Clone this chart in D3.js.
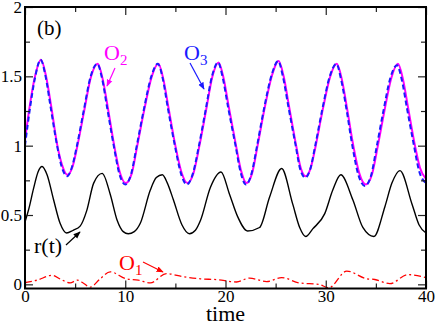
<!DOCTYPE html>
<html>
<head>
<meta charset="utf-8">
<script src="https://cdn.jsdelivr.net/npm/d3@7"></script>
<style>
  body { margin: 0; background: #fff; }
  text { font-family: "Liberation Serif", "Tinos", "Times New Roman", "Times", "DejaVu Serif", "Noto Serif", "FreeSerif", serif; }
</style>
</head>
<body>
<div id="chart"></div>
<script>
// time, value pairs
const o2 = [[0,1.04],[0.5,1.30],[1.0,1.50],[1.6,1.62],[2.1,1.50],[2.6,1.29],[3.23,1.00],[3.7,0.86],[4.23,0.79],[4.75,0.85],[5.23,1.00],[5.9,1.25],[6.6,1.50],[7.25,1.59],
  [7.75,1.48],[8.25,1.28],[8.9,1.00],[9.45,0.81],[10.05,0.73],[10.65,0.80],[11.2,1.00],[11.9,1.26],[12.65,1.50],[13.3,1.59],
  [13.8,1.48],[14.3,1.28],[15.0,1.00],[15.6,0.81],[16.2,0.73],[16.8,0.80],[17.4,1.00],[18.05,1.25],[18.7,1.50],[19.3,1.60],
  [19.8,1.49],[20.3,1.29],[21.05,1.00],[21.55,0.82],[22.1,0.73],[22.65,0.80],[23.2,1.00],[23.9,1.27],[24.65,1.51],[25.3,1.61],
  [25.8,1.50],[26.3,1.30],[27.05,1.00],[27.5,0.84],[28.0,0.78],[28.5,0.84],[29.0,1.00],[29.7,1.26],[30.45,1.50],[31.1,1.59],
  [31.6,1.48],[32.1,1.28],[32.75,1.00],[33.35,0.80],[34.0,0.72],[34.6,0.79],[35.2,1.00],[35.85,1.25],[36.55,1.49],[37.2,1.59],
  [37.7,1.48],[38.2,1.28],[38.9,1.00],[39.4,0.84],[40,0.76]];

const o3 = [[0,1.00],[0.5,1.27],[1.0,1.49],[1.55,1.62],[2.05,1.50],[2.55,1.28],[3.2,1.00],[3.65,0.85],[4.2,0.78],[4.7,0.85],[5.18,1.00],[5.85,1.25],[6.55,1.50],[7.2,1.59],
  [7.7,1.48],[8.2,1.27],[8.85,1.00],[9.4,0.80],[10.0,0.72],[10.6,0.80],[11.15,1.00],[11.85,1.26],[12.6,1.50],[13.25,1.59],
  [13.75,1.48],[14.25,1.27],[14.95,1.00],[15.55,0.80],[16.15,0.72],[16.75,0.80],[17.35,1.00],[18.0,1.25],[18.65,1.50],[19.25,1.60],
  [19.75,1.48],[20.25,1.28],[21.0,1.00],[21.5,0.81],[22.05,0.72],[22.6,0.80],[23.15,1.00],[23.85,1.27],[24.6,1.51],[25.25,1.61],
  [25.75,1.49],[26.25,1.29],[27.0,1.00],[27.45,0.83],[27.95,0.77],[28.45,0.83],[28.95,1.00],[29.65,1.26],[30.4,1.50],[31.05,1.59],
  [31.55,1.47],[32.05,1.27],[32.65,1.00],[33.25,0.79],[33.9,0.71],[34.5,0.78],[35.1,1.00],[35.75,1.25],[36.45,1.49],[37.1,1.58],
  [37.6,1.47],[38.1,1.27],[38.8,1.00],[39.3,0.82],[40,0.73]];

const rt = [[0,0.45],[0.4,0.55],[0.85,0.69],[1.3,0.81],[1.7,0.85],[2.2,0.79],[2.85,0.61],[3.5,0.44],[4.15,0.37],[4.8,0.39],[5.5,0.42],[6.15,0.53],[6.85,0.73],[7.7,0.80],
  [8.5,0.65],[9.2,0.46],[9.8,0.38],[10.3,0.365],[10.9,0.38],[11.5,0.44],[12.5,0.68],[13.1,0.77],[13.7,0.79],[14.2,0.73],[14.8,0.61],[15.65,0.43],[16.4,0.365],
  [17.0,0.39],[17.5,0.46],[18.5,0.70],[19.55,0.81],[20.4,0.65],[21.2,0.49],[22.2,0.385],[23.4,0.41],[24.4,0.63],[25.6,0.835],[26.7,0.58],[27.4,0.41],[28.0,0.345],
  [28.7,0.40],[29.9,0.51],[30.7,0.68],[31.5,0.79],[32.7,0.61],[33.7,0.41],[34.8,0.345],[35.9,0.56],[36.6,0.73],[37.4,0.82],[38.6,0.58],[39.3,0.43],[40,0.37]];

const o1 = [[0,0.012],[1.2,0.03],[2.7,0.065],[3.6,0.035],[4.5,0.01],[5.2,0.03],[5.8,0.01],[6.5,-0.02],[7.5,0.04],[8.5,0.09],[10.1,0.04],[11.3,0.03],[12.5,0.01],
  [14.1,0.077],[15.8,0.055],[17.5,0.04],[19.1,0.034],[21.1,0.017],[22.4,0.045],[24.1,0.02],[25.6,0.048],[27.4,0.01],[29.3,0.0],[30.3,-0.025],
  [32.1,0.096],[34.1,0.04],[34.9,0.035],[36.4,0.005],[38.2,0.07],[40,0.048]];

const xMajor = [0, 10, 20, 30, 40];
const xMinor = [5, 15, 25, 35];
const yMajor = [0, 0.5, 1, 1.5, 2];
const yMinor = [0.25, 0.75, 1.25, 1.75];

const W = 436, H = 325;
const margin = {left: 25, top: 7, right: 10, bottom: 36.5};

const svg = d3.select("#chart").append("svg")
  .attr("width", W).attr("height", H);

const x = d3.scaleLinear().domain([0, 40]).range([margin.left, W - margin.right]);
const y = d3.scaleLinear().domain([-0.03, 2]).range([H - margin.bottom, margin.top]);

svg.append("clipPath").attr("id", "plot")
  .append("rect")
  .attr("x", x(0)).attr("y", y(2))
  .attr("width", x(40) - x(0)).attr("height", y(-0.03) - y(2));

const line = d3.line()
  .x(d => x(d[0]))
  .y(d => y(d[1]))
  .curve(d3.curveMonotoneX);

const curves = svg.append("g").attr("clip-path", "url(#plot)").attr("fill", "none");

curves.append("path").datum(o1)
  .attr("stroke", "#ff0000").attr("stroke-width", 1.3)
  .attr("stroke-dasharray", "7,3,2,3")
  .attr("d", line);

curves.append("path").datum(rt)
  .attr("stroke", "#000").attr("stroke-width", 1.4)
  .attr("d", line);

curves.append("path").datum(o2)
  .attr("stroke", "#ff00ff").attr("stroke-width", 2)
  .attr("d", line);

curves.append("path").datum(o3)
  .attr("stroke", "#1a1aff").attr("stroke-width", 2)
  .attr("stroke-dasharray", "5,3")
  .attr("d", line);

// axes with inward ticks
function noDomain(g) { g.select(".domain").remove(); g.attr("font-family", null); }

svg.append("g").attr("transform", `translate(0,${y(-0.03)})`)
  .call(d3.axisBottom(x).tickValues(xMajor).tickSize(-8).tickPadding(1).tickFormat(d3.format("d")))
  .call(noDomain)
  .call(g => g.selectAll("text").attr("font-size", 17).attr("fill", "#000"));
svg.append("g").attr("transform", `translate(0,${y(-0.03)})`)
  .call(d3.axisBottom(x).tickValues(xMinor).tickSize(-5).tickFormat(""))
  .call(noDomain);
svg.append("g").attr("transform", `translate(0,${y(2)})`)
  .call(d3.axisTop(x).tickValues(xMajor).tickSize(-8).tickFormat(""))
  .call(noDomain);
svg.append("g").attr("transform", `translate(0,${y(2)})`)
  .call(d3.axisTop(x).tickValues(xMinor).tickSize(-5).tickFormat(""))
  .call(noDomain);

svg.append("g").attr("transform", `translate(${x(0)},0)`)
  .call(d3.axisLeft(y).tickValues(yMajor).tickSize(-8).tickPadding(3).tickFormat(d3.format("")))
  .call(noDomain)
  .call(g => g.selectAll("text").attr("font-size", 17).attr("fill", "#000"));
svg.append("g").attr("transform", `translate(${x(0)},0)`)
  .call(d3.axisLeft(y).tickValues(yMinor).tickSize(-5).tickFormat(""))
  .call(noDomain);
svg.append("g").attr("transform", `translate(${x(40)},0)`)
  .call(d3.axisRight(y).tickValues(yMajor).tickSize(-8).tickFormat(""))
  .call(noDomain);
svg.append("g").attr("transform", `translate(${x(40)},0)`)
  .call(d3.axisRight(y).tickValues(yMinor).tickSize(-5).tickFormat(""))
  .call(noDomain);

svg.selectAll(".tick line").attr("stroke", "#222").attr("stroke-width", 1.2);

svg.append("rect")
  .attr("x", x(0)).attr("y", y(2))
  .attr("width", x(40) - x(0)).attr("height", y(-0.03) - y(2))
  .attr("fill", "none").attr("stroke", "#000").attr("stroke-width", 2);

// x label
svg.append("text")
  .attr("x", (x(0) + x(40)) / 2).attr("y", 321)
  .attr("text-anchor", "middle").attr("font-size", 22)
  .text("time");

// panel tag
svg.append("text").attr("x", 37).attr("y", 35).attr("font-size", 21).text("(b)");

// annotations
const defs = svg.append("defs");
function marker(id, color) {
  defs.append("marker").attr("id", id)
    .attr("viewBox", "0 0 10 10").attr("refX", 9).attr("refY", 5)
    .attr("markerWidth", 6).attr("markerHeight", 6).attr("orient", "auto")
    .append("path").attr("d", "M0,1 L10,5 L0,9 Z").attr("fill", color);
}
marker("m-mag", "#ff00ff");
marker("m-blue", "#1a1aff");
marker("m-black", "#000");
marker("m-red", "#ff0000");

function label(tx, ty, main, sub, color) {
  const t = svg.append("text").attr("x", tx).attr("y", ty).attr("fill", color).attr("font-size", 22);
  t.append("tspan").text(main);
  t.append("tspan").attr("font-size", 15).attr("dy", 5).text(sub);
}
function arrow(x1, y1, x2, y2, color, id) {
  svg.append("line").attr("x1", x1).attr("y1", y1).attr("x2", x2).attr("y2", y2)
    .attr("stroke", color).attr("stroke-width", 1.2).attr("marker-end", `url(#${id})`);
}

label(104, 60, "O", "2", "#ff00ff");
arrow(115, 68, 107, 86, "#ff00ff", "m-mag");

label(184, 60, "O", "3", "#1a1aff");
arrow(190, 63, 204, 89, "#1a1aff", "m-blue");

svg.append("text").attr("x", 34).attr("y", 253).attr("font-size", 22).text("r(t)");
arrow(66, 245, 80, 232, "#000", "m-black");

label(119, 270, "O", "1", "#ff0000");
arrow(143, 262, 163, 272, "#ff0000", "m-red");
</script>
</body>
</html>
